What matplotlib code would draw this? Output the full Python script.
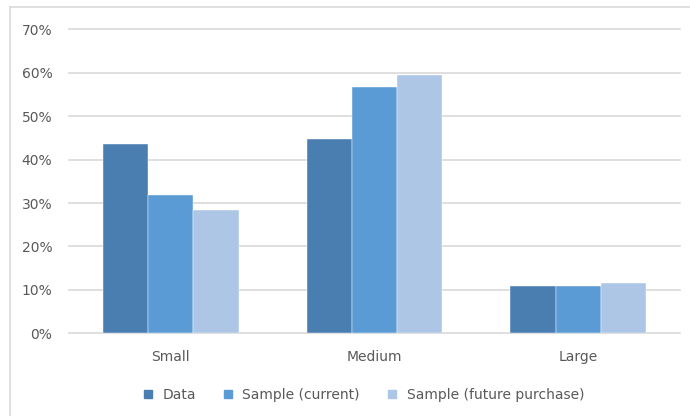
import numpy as np
import matplotlib.pyplot as plt
from matplotlib.ticker import PercentFormatter
from matplotlib.lines import Line2D

categories = ['Small', 'Medium', 'Large']
series_names = ['Data', 'Sample (current)', 'Sample (future purchase)']
data_vals = [0.437, 0.448, 0.110]
current_vals = [0.318, 0.568, 0.110]
future_vals = [0.284, 0.595, 0.115]
colors = ['#4A7EB0', '#5B9BD5', '#ADC6E6']

plt.rcParams['font.family'] = ['DejaVu Sans']
fig = plt.figure(figsize=(6.9, 4.16), dpi=100)
ax = fig.add_axes([69/690, 1-333.3/416, (680-69)/690, (333.3-29.3)/416])

x = np.arange(len(categories))
w = 0.222
handles = []
for k, (vals, name, c) in enumerate(zip([data_vals, current_vals, future_vals], series_names, colors)):
    ax.bar(x + (k-1)*w, vals, width=w, color=c, edgecolor='white', linewidth=0.3, zorder=3)
    handles.append(Line2D([], [], marker='s', linestyle='none', markersize=6, color=c, label=name))

ax.set_xlim(-0.5, 2.5)
ax.set_ylim(0, 0.7)
ax.set_yticks(np.arange(0, 0.71, 0.1))
ax.yaxis.set_major_formatter(PercentFormatter(1.0, decimals=0))
ax.set_xticks(x)
ax.set_xticklabels(categories)
ax.grid(axis='y', color='#d9d9d9', linewidth=1.2, zorder=0)
for gl in ax.get_ygridlines():
    gl.set_clip_on(False)
for s in ax.spines.values():
    s.set_visible(False)
ax.tick_params(length=0, colors='#595959', labelsize=10)
ax.tick_params(axis='x', pad=12)
ax.tick_params(axis='y', pad=12)

fig.legend(handles=handles, loc='center', ncol=3, frameon=False,
           bbox_to_anchor=(359/690, 1-395/416), fontsize=10,
           handletextpad=0.05, columnspacing=1.3, labelcolor='#595959')

# outer chart frame
fig.add_artist(Line2D([10/690, 10/690], [0, 1-7/416], color='#d9d9d9', linewidth=1.2))
fig.add_artist(Line2D([10/690, 1], [1-7/416, 1-7/416], color='#d9d9d9', linewidth=1.2))

plt.savefig('out.png', dpi=100)
